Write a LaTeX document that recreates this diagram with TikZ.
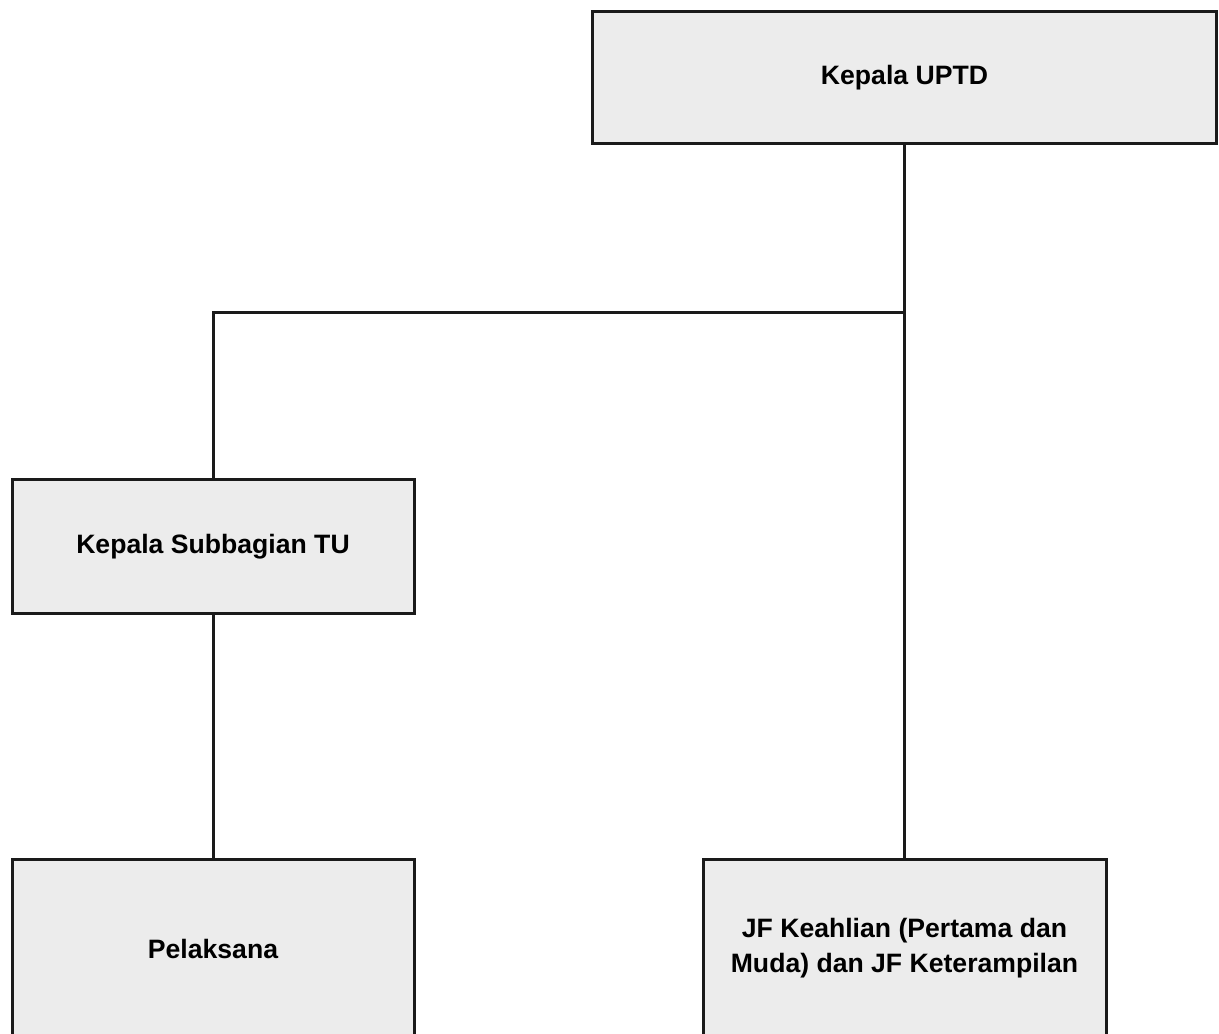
\documentclass[tikz,border=0pt]{standalone}
\usepackage{fontspec}
\setmainfont{Liberation Sans}
\definecolor{boxfill}{HTML}{ECECEC}
\definecolor{boxline}{HTML}{1A1A1A}
\begin{document}
\begin{tikzpicture}[x=1pt,y=-1pt,
  orgbox/.style={draw=boxline, fill=boxfill, line width=3pt, rectangle,
    inner sep=0pt, align=center,
    font=\fontsize{26.6}{35}\selectfont\bfseries},
  link/.style={draw=boxline, line width=3pt}]
  \useasboundingbox (0,0) rectangle (1219,1034);
  % boxes of the organisation chart
  \node[orgbox, minimum width=624pt, minimum height=132.5pt] (kepala) at (904.5,77.25) {Kepala UPTD};
  \node[orgbox, minimum width=402pt, minimum height=133.5pt] (subbag) at (213,546.25) {Kepala Subbagian TU};
  \node[orgbox, minimum width=402pt, minimum height=179pt] (pelaksana) at (213,948.5) {Pelaksana};
  \node[orgbox, minimum width=403pt, minimum height=179pt] (jf) at (904.5,948.5) {JF Keahlian (Pertama dan\\Muda) dan JF Keterampilan};
  % branch point below the head
  \coordinate (split) at (904.5,312);
  % connectors
  \draw[link] (kepala.south) -- (jf.north);
  \draw[link] (split) -| (subbag.north);
  \draw[link] (subbag.south) -- (pelaksana.north);
\end{tikzpicture}
\end{document}
